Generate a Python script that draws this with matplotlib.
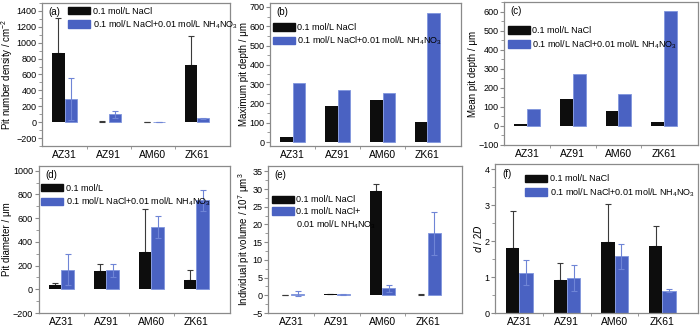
import numpy as np
import matplotlib
matplotlib.use('Agg')
import matplotlib.pyplot as plt
from matplotlib.patches import Patch
from matplotlib.ticker import MultipleLocator, FixedLocator

plt.rcParams['font.family'] = ['Liberation Sans', 'DejaVu Sans']
plt.rcParams['mathtext.default'] = 'regular'
plt.rcParams['font.size'] = 7

alloys = ['AZ31', 'AZ91', 'AM60', 'ZK61']

# (a) pit number density / cm^-2
density_nacl = [870, 5, 5, 720]
density_nacl_err = [440, 5, 3, 360]
density_nh4 = [290, 100, 2, 50]
density_nh4_err = [260, 45, 3, 5]

# (b) maximum pit depth / um
maxdepth_nacl = [28, 187, 218, 103]
maxdepth_nh4 = [305, 272, 253, 667]

# (c) mean pit depth / um
meandepth_nacl = [10, 143, 80, 20]
meandepth_nh4 = [87, 273, 170, 604]

# (d) pit diameter / um
diam_nacl = [35, 152, 315, 78]
diam_nacl_err = [18, 62, 360, 82]
diam_nh4 = [165, 162, 527, 752]
diam_nh4_err = [130, 55, 95, 90]

# (e) individual pit volume / 10^7 um^3
vol_nacl = [0.0, 0.3, 29.5, 0.1]
vol_nacl_err = [0.1, 0.2, 1.8, 0.2]
vol_nh4 = [0.5, 0.3, 2.0, 17.5]
vol_nh4_err = [0.6, 0.2, 1.0, 6.0]

# (f) d / 2D
ratio_nacl = [1.80, 0.92, 1.98, 1.88]
ratio_nacl_err = [1.05, 0.47, 1.05, 0.55]
ratio_nh4 = [1.12, 0.98, 1.58, 0.62]
ratio_nh4_err = [0.35, 0.37, 0.35, 0.04]

lab1 = '0.1 mol/L NaCl'
lab2 = '0.1 mol/L NaCl+0.01 mol/L NH$_4$NO$_3$'
black = '#0d0d0d'
blue = '#4a62c2'
frame = '#8a8a8a'

x = np.arange(1, 5)
w = 0.28

fig = plt.figure(figsize=(7, 3.33), dpi=100)


def panel(rect, v1, v2, e1=None, e2=None, ylim=None, major=None, minor=None,
          ylabel='', tag='', leg_xy=(0.0, 1.0), labels=(lab1, lab2), third=None):
    ax = fig.add_axes(rect)
    ax.bar(x - w / 2, v1, w, color=black, zorder=2)
    ax.bar(x + w / 2, v2, w, color=blue, edgecolor='#7f95dd', linewidth=0.6, zorder=2)
    # only the upper whisker is drawn for the black bars
    if e1 is not None:
        ax.errorbar(x - w / 2, v1, yerr=[np.zeros(4), e1], fmt='none', ecolor='#3a3a3a',
                    elinewidth=0.8, capsize=2.5, capthick=0.8, zorder=1)
    if e2 is not None:
        ax.errorbar(x + w / 2, v2, yerr=e2, fmt='none', ecolor='#6f85d6',
                    elinewidth=0.8, capsize=2.5, capthick=0.8, zorder=3)
    ax.set_xlim(0.49, 4.75)
    ax.set_ylim(*ylim)
    ax.yaxis.set_major_locator(MultipleLocator(major))
    ax.yaxis.set_minor_locator(MultipleLocator(minor))
    ax.set_xticks(x)
    ax.set_xticklabels(alloys, fontsize=7.5)
    ax.xaxis.set_minor_locator(FixedLocator([1.5, 2.5, 3.5]))
    ax.tick_params(axis='x', which='major', length=0, pad=3)
    ax.tick_params(axis='x', which='minor', length=2, direction='out', color=frame)
    ax.tick_params(axis='y', which='major', length=3, direction='out', color=frame,
                   labelsize=6.5, pad=1)
    ax.tick_params(axis='y', which='minor', length=2, direction='out', color=frame)
    for s in ax.spines.values():
        s.set_color(frame)
        s.set_linewidth(0.9)
    ax.set_ylabel(ylabel, fontsize=7, labelpad=0.5)
    ax.text(0.035, 0.97, tag, transform=ax.transAxes, ha='left', va='top', fontsize=7)
    handles = [Patch(color=black), Patch(color=blue)]
    labs = list(labels)
    if third is not None:
        handles.append(Patch(facecolor='none', edgecolor='none'))
        labs.append(third)
    ax.legend(handles, labs, loc='upper left', bbox_to_anchor=leg_xy, frameon=False,
              fontsize=6.5, handlelength=2.4, handleheight=0.9, handletextpad=0.3,
              labelspacing=0.3, borderpad=0, borderaxespad=0)
    return ax


panel([0.06, 0.5616, 0.2686, 0.4294], density_nacl, density_nh4,
      density_nacl_err, density_nh4_err, ylim=(-300, 1500), major=200, minor=100,
      ylabel='Pit number density / cm$^{-2}$', tag='(a)', leg_xy=(0.14, 0.975))

panel([0.3857, 0.5616, 0.2729, 0.4294], maxdepth_nacl, maxdepth_nh4,
      ylim=(-20, 720), major=100, minor=50,
      ylabel='Maximum pit depth / μm', tag='(b)', leg_xy=(0.015, 0.86))

panel([0.72, 0.5646, 0.2771, 0.4294], meandepth_nacl, meandepth_nh4,
      ylim=(-100, 650), major=100, minor=50,
      ylabel='Mean pit depth / μm', tag='(c)', leg_xy=(0.02, 0.83))

panel([0.055, 0.06, 0.2736, 0.4414], diam_nacl, diam_nh4,
      diam_nacl_err, diam_nh4_err, ylim=(-200, 1040), major=200, minor=100,
      ylabel='Pit diameter / μm', tag='(d)', leg_xy=(0.015, 0.88),
      labels=('0.1 mol/L', lab2))

panel([0.3829, 0.06, 0.2771, 0.4414], vol_nacl, vol_nh4,
      vol_nacl_err, vol_nh4_err, ylim=(-5, 36.5), major=5, minor=2.5,
      ylabel='Individual pit volume / 10$^7$ μm$^3$', tag='(e)', leg_xy=(0.02, 0.80),
      labels=(lab1, '0.1 mol/L NaCl+'), third='0.01 mol/L NH$_4$NO$_3$')

panel([0.7071, 0.06, 0.29, 0.4474], ratio_nacl, ratio_nh4,
      ratio_nacl_err, ratio_nh4_err, ylim=(0, 4.15), major=1, minor=0.5,
      ylabel='$\\it{d}$ / 2$\\it{D}$', tag='(f)', leg_xy=(0.15, 0.93))

fig.savefig('out.png', dpi=100)
